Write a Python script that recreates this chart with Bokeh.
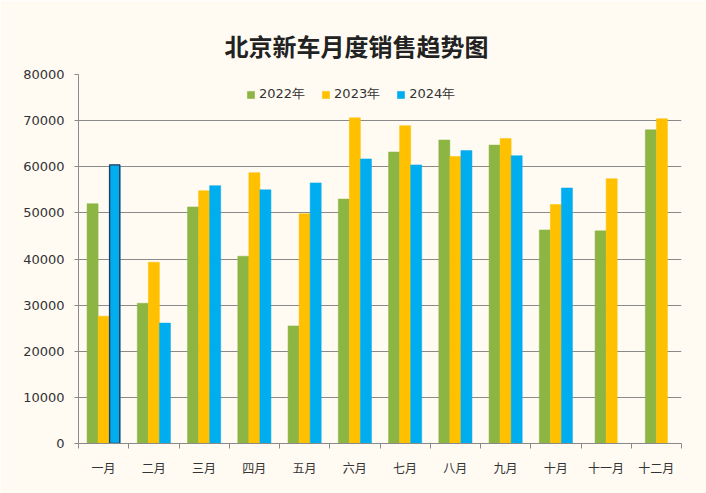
from bokeh.plotting import figure
from bokeh.models import ColumnDataSource, FixedTicker, Range1d, Legend, LegendItem, CDSView, IndexFilter
from bokeh.embed import file_html
from bokeh.resources import INLINE

months = ["一月", "二月", "三月", "四月", "五月", "六月", "七月", "八月", "九月", "十月", "十一月", "十二月"]
sales_2022 = [52000, 30400, 51300, 40600, 25500, 53000, 63200, 65800, 64700, 46300, 46100, 68000]
sales_2023 = [27600, 39300, 54800, 58700, 49800, 70600, 68900, 62200, 66100, 51800, 57400, 70400]
sales_2024 = [60400, 26100, 55900, 55000, 56500, 61700, 60400, 63500, 62400, 55400]
series_names = ["2022年", "2023年", "2024年"]
y_ticks = [0, 10000, 20000, 30000, 40000, 50000, 60000, 70000, 80000]

GREEN = "#8DB543"
YELLOW = "#FFC000"
BLUE = "#00ADEF"
BG = "#FFFBF3"
GRID = "#8A8A8A"
BW = 0.22

n3 = len(sales_2024)

def pos(i, k, nser):
    return i + 0.5 + (k - (nser - 1) / 2) * BW

x22 = [pos(i, 0, 3 if i < n3 else 2) for i in range(len(months))]
x23 = [pos(i, 1, 3 if i < n3 else 2) for i in range(len(months))]
x24 = [pos(i, 2, 3) for i in range(n3)]

s22 = ColumnDataSource(dict(x=x22, top=sales_2022))
s23 = ColumnDataSource(dict(x=x23, top=sales_2023))
s24 = ColumnDataSource(dict(x=x24, top=sales_2024))

p = figure(width=706, height=493, output_backend="svg", toolbar_location=None,
           x_range=Range1d(0, 12), y_range=Range1d(0, 80000),
           min_border_left=78, min_border_right=25, min_border_top=74, min_border_bottom=50,
           background_fill_color=BG, border_fill_color=BG)
p.outline_line_color = None

r22 = p.vbar(x="x", top="top", width=BW, source=s22, fill_color=GREEN, line_color=GREEN, line_width=0.5)
r23 = p.vbar(x="x", top="top", width=BW, source=s23, fill_color=YELLOW, line_color=YELLOW, line_width=0.5)
r24 = p.vbar(x="x", top="top", width=BW, source=s24, fill_color=BLUE, line_color=BLUE, line_width=0.5)
p.vbar(x="x", top="top", width=BW - 0.02, source=s24, view=CDSView(filter=IndexFilter([0])),
       fill_color=BLUE, line_color="#2E3B5E", line_width=1.3)

# title
p.title.text = "北京新车月度销售趋势图"
p.title.text_font = "Noto Sans CJK SC"
p.title.text_font_size = "24px"
p.title.text_font_style = "bold"
p.title.text_color = "#222222"
p.title.align = "left"
p.title.offset = 146
p.title.standoff = 24

# axes
p.xaxis.ticker = FixedTicker(ticks=[i + 0.5 for i in range(12)], minor_ticks=list(range(13)))
p.xaxis.major_label_overrides = {i + 0.5: m for i, m in enumerate(months)}
p.xaxis.major_tick_line_color = None
p.xaxis.minor_tick_line_color = GRID
p.xaxis.minor_tick_in = 0
p.xaxis.minor_tick_out = 5
p.xaxis.major_label_text_font = "Noto Sans CJK SC"
p.xaxis.major_label_text_font_size = "12px"
p.xaxis.major_label_text_color = "#333333"
p.xaxis.major_label_standoff = 9
p.xaxis.axis_line_color = GRID

p.yaxis.ticker = FixedTicker(ticks=y_ticks)
p.yaxis.major_label_overrides = {t: str(t) for t in y_ticks}
p.yaxis.major_tick_line_color = GRID
p.yaxis.major_tick_in = 0
p.yaxis.major_tick_out = 4
p.yaxis.minor_tick_line_color = None
p.yaxis.major_label_text_font = "DejaVu Sans"
p.yaxis.major_label_text_font_size = "13px"
p.yaxis.major_label_text_color = "#333333"
p.yaxis.major_label_standoff = 10
p.yaxis.axis_line_color = GRID

p.xgrid.grid_line_color = None
p.ygrid.grid_line_color = GRID
p.ygrid.grid_line_width = 1

legend = Legend(items=[LegendItem(label=series_names[0], renderers=[r22]),
                       LegendItem(label=series_names[1], renderers=[r23]),
                       LegendItem(label=series_names[2], renderers=[r24])],
                orientation="horizontal", location=(168, 340))
legend.background_fill_alpha = 0
legend.border_line_color = None
legend.padding = 0
legend.margin = 0
legend.glyph_width = 9
legend.glyph_height = 9
legend.label_standoff = 4
legend.spacing = 16
legend.label_text_font = "DejaVu Sans"
legend.label_text_font_size = "13px"
legend.label_text_color = "#333333"
p.add_layout(legend, "center")

open("out.html", "w").write(file_html(p, INLINE))
